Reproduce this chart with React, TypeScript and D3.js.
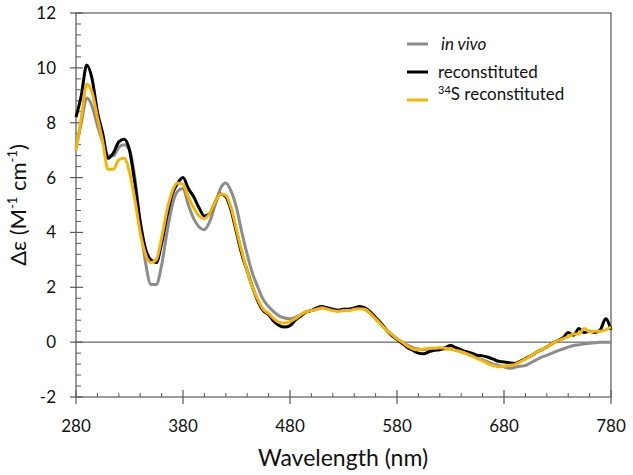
import React from 'react'
import * as d3 from 'd3'

// wavelength grid (nm)
const wavelengths = [
  280, 285, 290, 295, 300, 305, 310, 315, 320, 325, 330, 335, 340, 345, 350, 355, 360, 365, 370, 375,
  380, 385, 390, 395, 400, 405, 410, 415, 420, 425, 430, 435, 440, 445, 450, 455, 460, 465, 470, 475,
  480, 485, 490, 495, 500, 505, 510, 515, 520, 525, 530, 535, 540, 545, 550, 555, 560, 565, 570, 575,
  580, 585, 590, 595, 600, 605, 610, 615, 620, 625, 630, 635, 640, 645, 650, 655, 660, 665, 670, 675,
  680, 685, 690, 695, 700, 705, 710, 715, 720, 725, 730, 735, 740, 745, 750, 755, 760, 765, 770, 775,
  780,
]

const inVivo = [
  7.1, 8.0, 8.9, 8.6, 7.9, 7.3, 6.8, 6.8, 7.1, 7.2, 7.0, 6.0, 4.3, 2.9, 2.1, 2.1, 2.8, 4.0, 5.0, 5.5,
  5.6, 5.0, 4.5, 4.2, 4.1, 4.4, 5.0, 5.6, 5.8, 5.5, 4.9, 4.0, 3.2, 2.5, 2.0, 1.55, 1.3, 1.1, 0.95, 0.88,
  0.85, 0.9, 1.0, 1.1, 1.15, 1.2, 1.25, 1.25, 1.2, 1.18, 1.2, 1.2, 1.22, 1.25, 1.2, 1.05, 0.85, 0.65, 0.45, 0.28,
  0.12, 0.0, -0.12, -0.2, -0.25, -0.28, -0.25, -0.25, -0.25, -0.25, -0.25, -0.3, -0.35, -0.42, -0.5, -0.58, -0.65, -0.72, -0.8, -0.85,
  -0.9, -0.95, -0.92, -0.88, -0.85, -0.75, -0.65, -0.55, -0.48, -0.4, -0.32, -0.25, -0.18, -0.12, -0.1, -0.06, -0.04, -0.02, 0.0, 0.0,
  0.0,
]

const reconstituted = [
  8.2, 9.0, 10.1, 9.6, 8.4, 7.6, 6.7, 6.9, 7.3, 7.4, 7.0, 5.8, 4.4, 3.4, 3.0, 2.9, 3.6, 4.6, 5.4, 5.8,
  6.0, 5.6, 5.3, 4.9, 4.6, 4.7, 5.1, 5.4, 5.3, 4.8, 4.0, 3.2, 2.6, 2.0, 1.5, 1.15, 1.0, 0.75, 0.6, 0.55,
  0.6, 0.8, 0.95, 1.1, 1.15, 1.25, 1.3, 1.25, 1.2, 1.15, 1.2, 1.2, 1.25, 1.3, 1.25, 1.1, 0.9, 0.7, 0.45, 0.25,
  0.1, -0.05, -0.2, -0.3, -0.4, -0.42, -0.35, -0.3, -0.28, -0.2, -0.12, -0.2, -0.28, -0.35, -0.4, -0.48, -0.5, -0.55, -0.62, -0.7,
  -0.72, -0.75, -0.78, -0.7, -0.6, -0.5, -0.38, -0.28, -0.18, -0.05, 0.05, 0.15, 0.35, 0.25, 0.5, 0.35, 0.4, 0.35, 0.45, 0.85,
  0.45,
]

const s34Reconstituted = [
  7.0, 8.2, 9.4, 9.1, 8.2, 7.3, 6.3, 6.3, 6.65, 6.7, 6.2, 5.2, 4.0, 3.2, 2.9, 3.0, 3.8, 4.8, 5.5, 5.8,
  5.75, 5.3, 4.9, 4.6, 4.5, 4.7, 5.1, 5.4, 5.35, 4.9, 4.1, 3.3, 2.6, 2.0, 1.55, 1.2, 1.05, 0.85, 0.72, 0.7,
  0.75, 0.85, 1.0, 1.1, 1.15, 1.2, 1.25, 1.2, 1.15, 1.12, 1.15, 1.15, 1.2, 1.22, 1.2, 1.05, 0.85, 0.65, 0.45, 0.28,
  0.12, 0.0, -0.15, -0.25, -0.28, -0.25, -0.22, -0.22, -0.2, -0.22, -0.25, -0.3, -0.35, -0.42, -0.5, -0.6, -0.68, -0.78, -0.85, -0.9,
  -0.88, -0.85, -0.82, -0.72, -0.62, -0.5, -0.38, -0.28, -0.18, -0.05, 0.05, 0.12, 0.2, 0.3, 0.3, 0.5, 0.38, 0.4, 0.4, 0.45,
  0.55,
]

const xTicks = [280, 380, 480, 580, 680, 780]
const yTicks = [-2, 0, 2, 4, 6, 8, 10, 12]

const FONT = 'Lato, "Open Sans", sans-serif'
const AXIS = '#595959'

export default function App() {
  const left = 76, right = 611, top = 13, bottom = 397
  const x = d3.scaleLinear().domain([280, 780]).range([left, right])
  const y = d3.scaleLinear().domain([-2, 12]).range([bottom, top])

  const series = [
    { name: 'in vivo', values: inVivo, color: '#8c8c8c', italic: true },
    { name: 'reconstituted', values: reconstituted, color: '#000000', italic: false },
    { name: '34S reconstituted', values: s34Reconstituted, color: '#f7b500', italic: false },
  ]

  const line = d3.line<number>()
    .x((_, i) => x(wavelengths[i]))
    .y(d => y(d))
    .curve(d3.curveMonotoneX)

  const xMinor = d3.range(280, 781, 20).filter(v => (v - 280) % 100 !== 0)
  const yMinor = d3.range(-2, 12.01, 0.4).filter(v => Math.abs(v / 2 - Math.round(v / 2)) > 0.01)

  return (
    <svg width={633} height={475} style={{ position: 'absolute', left: 0, top: 0, background: '#fff' }}>
      {/* frame */}
      <rect x={left} y={top} width={right - left} height={bottom - top} fill="none" stroke={AXIS} strokeWidth={1.2} />
      {/* zero line */}
      <line x1={left} x2={right} y1={y(0)} y2={y(0)} stroke="#404040" strokeWidth={1} />

      {/* x ticks */}
      {xMinor.map(v => (
        <line key={'xm' + v} x1={x(v)} x2={x(v)} y1={bottom} y2={bottom - 4} stroke={AXIS} strokeWidth={1} />
      ))}
      {xTicks.map(v => (
        <g key={'x' + v}>
          <line x1={x(v)} x2={x(v)} y1={bottom - 7} y2={bottom + 7} stroke={AXIS} strokeWidth={1.2} />
          <text x={x(v)} y={432} textAnchor="middle" fontFamily={FONT} fontSize={17} fill="#111">{v}</text>
        </g>
      ))}

      {/* y ticks */}
      {yMinor.map(v => (
        <line key={'ym' + v} x1={left} x2={left + 5} y1={y(v)} y2={y(v)} stroke={AXIS} strokeWidth={1} />
      ))}
      {yTicks.map(v => (
        <g key={'y' + v}>
          <line x1={left - 6} x2={left + 7} y1={y(v)} y2={y(v)} stroke={AXIS} strokeWidth={1.2} />
          <text x={56} y={y(v)} dy="0.35em" textAnchor="end" fontFamily={FONT} fontSize={17} fill="#111">{v}</text>
        </g>
      ))}

      {/* curves */}
      {series.map(s => (
        <path key={s.name} d={line(s.values) ?? ''} fill="none" stroke={s.color} strokeWidth={3} strokeLinejoin="round" />
      ))}

      {/* legend */}
      {series.map((s, i) => {
        const ly = 44 + i * 28
        return (
          <g key={'lg' + s.name}>
            <line x1={407} x2={428} y1={ly} y2={ly} stroke={s.color} strokeWidth={3} />
            <text x={438} y={ly} dy="0.35em" fontFamily={FONT} fontSize={17} fill="#111"
              fontStyle={s.italic ? 'italic' : 'normal'}>
              {i === 0 ? <tspan dx={3}>in vivo</tspan> : null}
              {i === 1 ? 'reconstituted' : null}
              {i === 2 ? <><tspan fontSize={11} dy={-6}>34</tspan><tspan dy={6}>S reconstituted</tspan></> : null}
            </text>
          </g>
        )
      })}

      {/* axis titles */}
      <text x={343} y={466} textAnchor="middle" fontFamily={FONT} fontSize={23} fill="#111">Wavelength (nm)</text>
      <text transform={`translate(26,${(top + bottom) / 2}) rotate(-90)`} textAnchor="middle" fontFamily={FONT} fontSize={22} fill="#111">
        Δε (M<tspan fontSize={13} dy={-9}>-1</tspan><tspan dy={9}> cm</tspan><tspan fontSize={13} dy={-9}>-1</tspan><tspan dy={9}>)</tspan>
      </text>
    </svg>
  )
}
